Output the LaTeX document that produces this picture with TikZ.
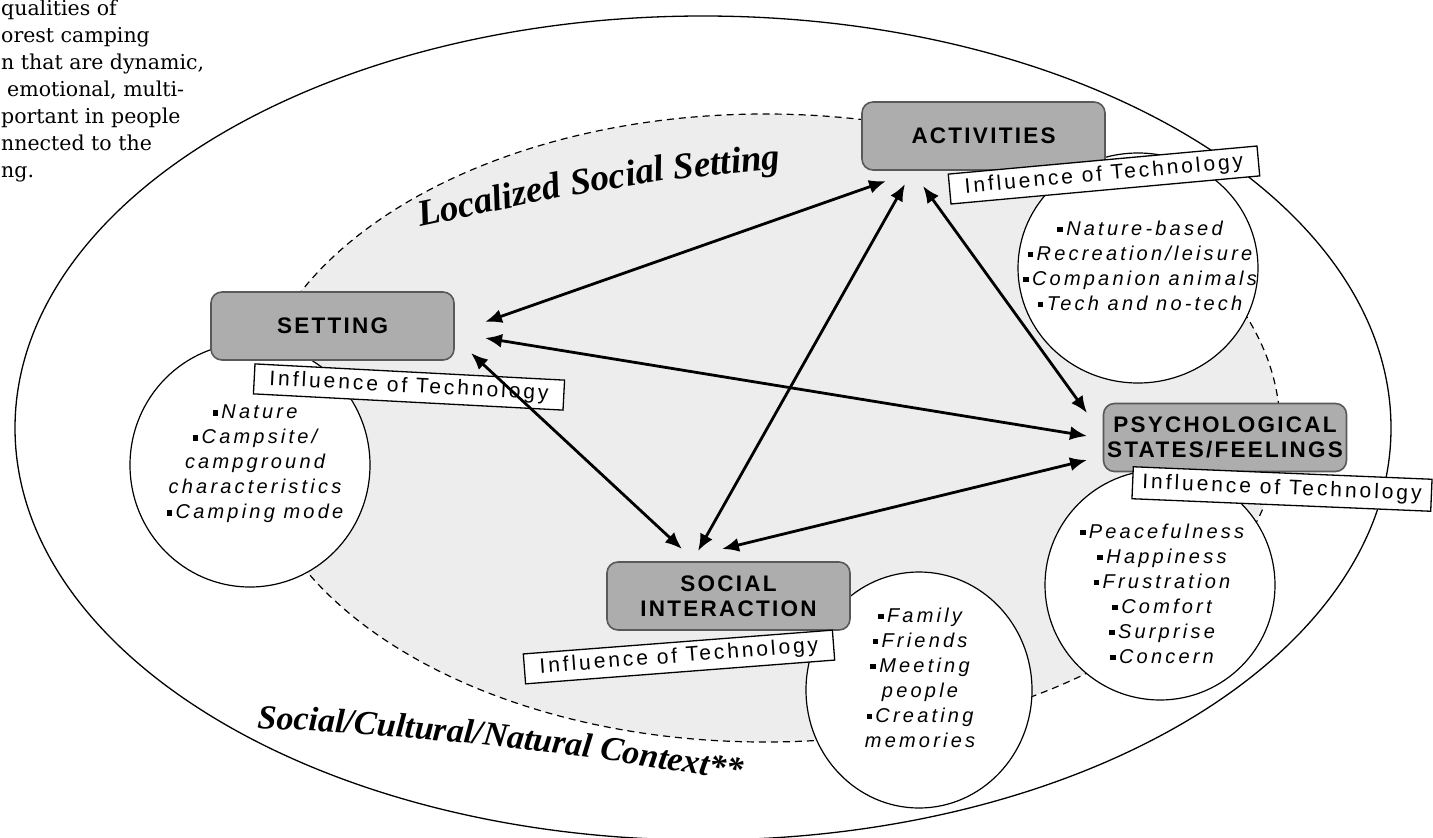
\documentclass[tikz,border=0pt]{standalone}
\usepackage{fontspec}
\setmainfont{Liberation Serif}
\setsansfont{Liberation Sans}
\newfontfamily\slabfont{DejaVu Serif}
\newfontfamily\widesans[LetterSpace=10]{Liberation Sans}
\newfontfamily\tagsans[LetterSpace=14]{Liberation Sans}
\newfontfamily\listsans[LetterSpace=16]{Liberation Sans}
\usetikzlibrary{arrows.meta}
\newcommand{\sq}{\rule[0.3ex]{0.28em}{0.28em}\,}

\begin{document}
\begin{tikzpicture}[x=1pt,y=-1pt,
    concept/.style={draw=black!65,line width=1.6pt,fill=black!32,rounded corners=11pt,
      minimum width=243pt,minimum height=68pt,align=center,inner sep=2pt,
      font=\widesans\bfseries\fontsize{22.5}{24.5}\selectfont},
    techtag/.style={draw,line width=1.3pt,fill=white,minimum width=310pt,minimum height=30pt,
      inner sep=0pt,font=\tagsans\fontsize{21}{23}\selectfont},
    bubble/.style={draw,line width=1.2pt,fill=white},
    itemlist/.style={align=center,inner sep=0pt,font=\listsans\itshape\fontsize{20}{25}\selectfont},
    ctxword/.style={inner sep=0pt,anchor=base west,font=\rmfamily\bfseries\itshape\fontsize{34}{36}\selectfont},
    localword/.style={inner sep=0pt,anchor=base west,font=\rmfamily\bfseries\itshape\fontsize{37}{39}\selectfont},
    link/.style={{Latex[length=17pt,width=14pt]}-{Latex[length=17pt,width=14pt]},line width=2.8pt}]
  \useasboundingbox (0,0) rectangle (1433,838);
  % fragment of the caption text, cut at the left border
  \node[anchor=north west,align=left,inner sep=0pt,font=\slabfont\fontsize{20.5}{27}\selectfont] (note) at (1,0)
    {qualities of\\orest camping\\n that are dynamic,\\\hspace{6pt}emotional, multi-\\portant in people\\nnected to the\\ng.};
  % context ellipses
  \draw[line width=1.3pt] (703,428) ellipse (688 and 412);
  \draw[fill=black!7,line width=1.2pt,dash pattern=on 7pt off 5pt] (765,428) ellipse (515 and 314);
  \node[localword,rotate=12] (loc1) at (420,227) {Localized};
  \node[localword,rotate=9] (loc2) at (loc1.base east) {\hspace{9pt}Social};
  \node[localword,rotate=6] (loc3) at (loc2.base east) {\hspace{9pt}Setting};
  \node[ctxword,rotate=-3] (ctx1) at (257,728) {Social/};
  \node[ctxword,rotate=-5] (ctx2) at (ctx1.base east) {Cultural/};
  \node[ctxword,rotate=-7] (ctx3) at (ctx2.base east) {Natural};
  \node[ctxword,rotate=-9] (ctx4) at (ctx3.base east) {\hspace{8pt}Context**};
  % bubbles with the items
  \draw[bubble] (1138,268) ellipse (120 and 115);
  \draw[bubble] (250,465) ellipse (120 and 122);
  \draw[bubble] (1160,585) ellipse (115 and 115);
  \draw[bubble] (919,690) ellipse (113 and 118);
  \node[itemlist] (actlist) at (1140,266)
    {\sq Nature-based\\\sq Recreation/leisure\\\sq Companion animals\\\sq Tech and no-tech};
  \node[itemlist] (setlist) at (255,464)
    {\sq Nature\\\sq Campsite/\\campground\\characteristics\\\sq Camping mode};
  \node[itemlist] (psylist) at (1162,594)
    {\sq Peacefulness\\\sq Happiness\\\sq Frustration\\\sq Comfort\\\sq Surprise\\\sq Concern};
  \node[itemlist] (soclist) at (920,678)
    {\sq Family\\\sq Friends\\\sq Meeting\\people\\\sq Creating\\memories};
  % the four concepts
  \node[concept] (act) at (983.5,136) {ACTIVITIES};
  \node[concept] (set) at (332.5,326) {SETTING};
  \node[concept] (psy) at (1225,437.5) {PSYCHOLOGICAL\\STATES/FEELINGS};
  \node[concept] (soc) at (728.5,596) {SOCIAL\\INTERACTION};
  \node[techtag,rotate=5.2] (acttag) at (1104,175) {Influence of Technology};
  \node[techtag,rotate=-3] (settag) at (409,387) {Influence of Technology};
  \node[techtag,rotate=-2.4,minimum width=299pt,minimum height=32pt] (psytag) at (1282,489) {Influence of Technology};
  \node[techtag,rotate=4.4] (soctag) at (679,657) {Influence of Technology};
  % arrow ends
  \coordinate (set-act) at (485,322);
  \coordinate (act-set) at (886,181);
  \coordinate (set-psy) at (485,338);
  \coordinate (psy-set) at (1087,436);
  \coordinate (set-soc) at (471,353);
  \coordinate (soc-set) at (682,549);
  \coordinate (act-soc) at (905,184);
  \coordinate (soc-act) at (698,551);
  \coordinate (act-psy) at (923,186);
  \coordinate (psy-act) at (1087,413);
  \coordinate (soc-psy) at (722,549);
  \coordinate (psy-soc) at (1087,460);
  \draw[link] (set-act) -- (act-set);
  \draw[link] (set-psy) -- (psy-set);
  \draw[link] (set-soc) -- (soc-set);
  \draw[link] (act-soc) -- (soc-act);
  \draw[link] (act-psy) -- (psy-act);
  \draw[link] (soc-psy) -- (psy-soc);
\end{tikzpicture}
\end{document}
